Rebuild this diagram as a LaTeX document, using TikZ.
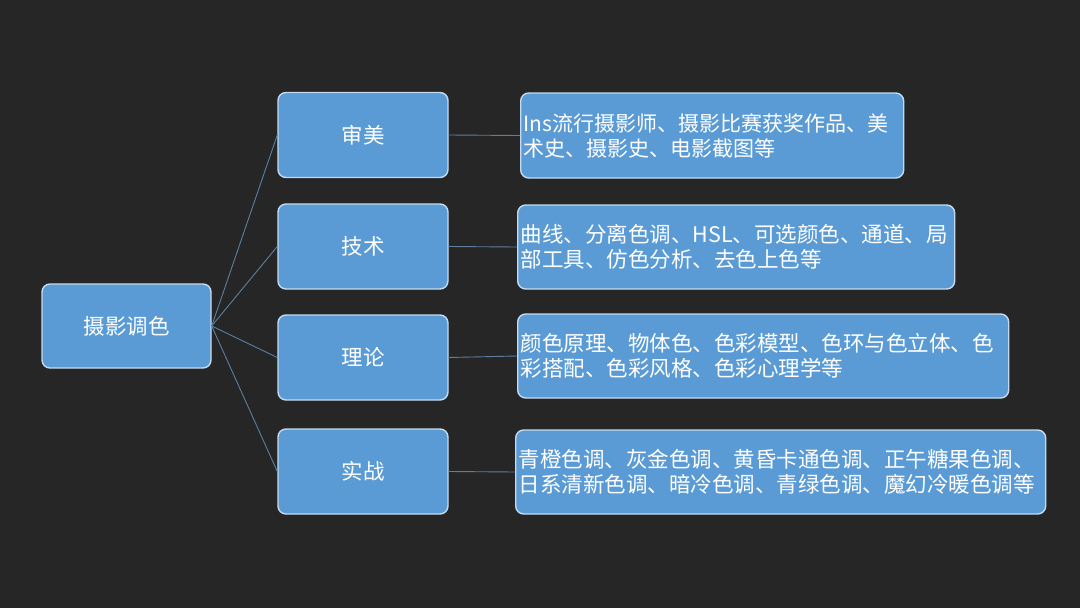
\documentclass[tikz,border=0pt]{standalone}
\usepackage{fontspec}
\setmainfont{Noto Sans CJK SC}
\definecolor{bgc}{HTML}{262626}
\definecolor{boxfill}{HTML}{5B9BD5}
\definecolor{boxline}{HTML}{C3DAF0}
\definecolor{conn}{HTML}{5E7E9E}
\begin{document}
\begin{tikzpicture}[x=1pt,y=-1pt,
  box/.style={draw=boxline, line width=1.4pt, fill=boxfill, rounded corners=8pt, text=white, inner sep=0pt, font=\fontsize{21}{25}\selectfont},
  midbox/.style={box, minimum width=170pt, minimum height=85pt, align=center, font=\fontsize{21.5}{25}\selectfont},
  leafbox/.style={box, align=left, anchor=west, inner xsep=3pt, font=\fontsize{21.5}{25}\selectfont},
  link/.style={draw=conn, line width=0.9pt}]
\fill[bgc] (0,0) rectangle (1080,608);
\useasboundingbox (0,0) rectangle (1080,608);

\node[midbox, minimum width=169pt, minimum height=84pt] (root) at (126.5,326) {摄影调色};

\node[midbox] (m1) at (363,135) {审美};
\node[midbox] (m2) at (363,246.5) {技术};
\node[midbox] (m3) at (363,357.5) {理论};
\node[midbox] (m4) at (363,471.5) {实战};

\node[leafbox, minimum width=383pt, minimum height=85pt, text width=377pt, font=\fontsize{21}{25}\selectfont] (r1) at (520,135.5) {\raisebox{-2pt}{\parbox{377pt}{Ins流行摄影师、摄影比赛获奖作品、美\\术史、摄影史、电影截图等}}};
\node[leafbox, minimum width=437pt, minimum height=84pt, text width=431pt] (r2) at (517,247) {曲线、分离色调、HSL、可选颜色、通道、局\\部工具、仿色分析、去色上色等};
\node[leafbox, minimum width=491pt, minimum height=84pt, text width=485pt] (r3) at (517,356) {颜色原理、物体色、色彩模型、色环与色立体、色\\彩搭配、色彩风格、色彩心理学等};
\node[leafbox, minimum width=530pt, minimum height=84pt, text width=524pt] (r4) at (515,472) {青橙色调、灰金色调、黄昏卡通色调、正午糖果色调、\\日系清新色调、暗冷色调、青绿色调、魔幻冷暖色调等};

\foreach \m in {m1,m2,m3,m4} \draw[link] (root.east) -- (\m.west);
\draw[link] (m1.east) -- (r1.west);
\draw[link] (m2.east) -- (r2.west);
\draw[link] (m3.east) -- (r3.west);
\draw[link] (m4.east) -- (r4.west);
\end{tikzpicture}
\end{document}
